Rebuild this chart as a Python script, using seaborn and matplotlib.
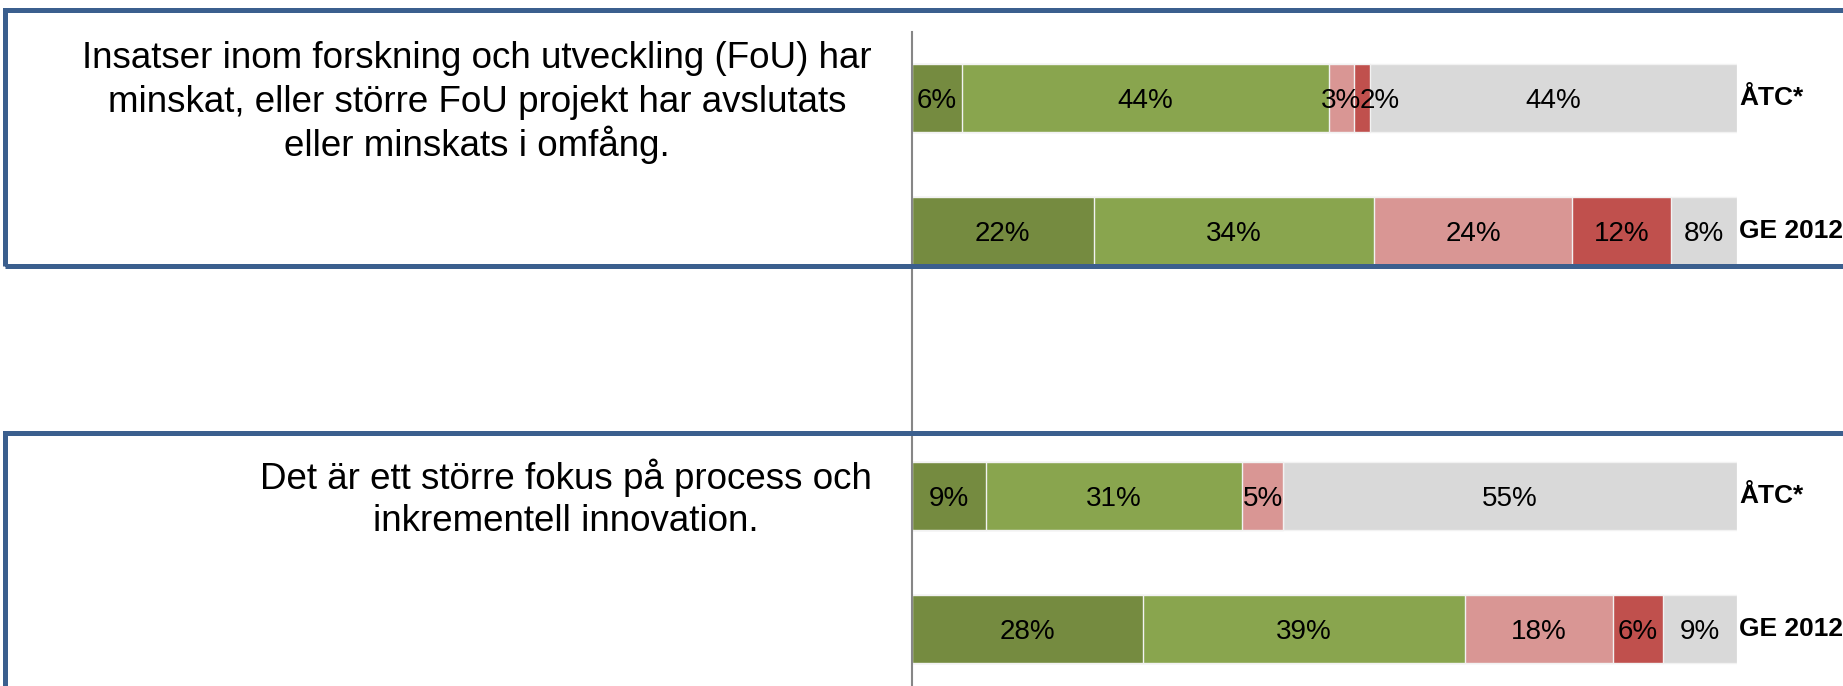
import numpy as np
import pandas as pd
import seaborn as sns
import matplotlib
matplotlib.use("Agg")
import matplotlib.pyplot as plt
from matplotlib.patches import Rectangle

# ---------------- data ----------------
row_labels = ["ÅTC*", "GE 2012", "ÅTC*", "GE 2012"]
row_keys = ["r1", "r2", "r3", "r4"]
slot_order = ["r1", "r2", "gap", "r3", "r4"]
segments = ["s1", "s2", "s3", "s4", "s5"]
seg_colors = ["#758B40", "#89A54E", "#D99694", "#C0504D", "#D9D9D9"]
seg1 = [6, 22, 9, 28]
seg2 = [44, 34, 31, 39]
seg3 = [3, 24, 5, 18]
seg4 = [2, 12, 0, 6]
seg5 = [44, 8, 55, 9]
question1 = ["Insatser inom forskning och utveckling (FoU) har",
             "minskat, eller större FoU projekt har avslutats",
             "eller minskats i omfång."]
question2 = ["Det är ett större fokus på process och",
             "inkrementell innovation."]

W, H = 1843, 686
sns.set_theme(style="white")
plt.rcParams["font.family"] = ["Liberation Sans", "DejaVu Sans"]

fig = plt.figure(figsize=(W / 100, H / 100), dpi=100)
fig.patch.set_facecolor("white")

def px(x):
    return x / W

def py(y):
    return 1 - y / H

ax = fig.add_axes([px(912), 0, (1737 - 912) / W, (H - 32) / H])

vals = np.array([seg1, seg2, seg3, seg4, seg5], dtype=float)
shares = vals / vals.sum(axis=0) * 100
cum = np.cumsum(shares, axis=0)

# draw overlapping cumulative bars, from the total down to the first segment
for k in range(len(segments) - 1, -1, -1):
    df = pd.DataFrame({"row": row_keys, "value": cum[k]})
    sns.barplot(data=df, y="row", x="value", order=slot_order, orient="h",
                color=seg_colors[k], width=0.513, saturation=1,
                edgecolor="#F2F2F2", linewidth=1.0, ax=ax, zorder=2)

ax.set_xlim(0, 100)
ax.set_ylim(4.43, -0.5)

slot_pos = {k: i for i, k in enumerate(slot_order)}
row_texts = []
for j, key in enumerate(row_keys):
    yv = slot_pos[key]
    left = 0.0
    texts = []
    for k in range(len(segments)):
        w = shares[k, j]
        if vals[k, j] > 0:
            t = ax.text(left + w / 2, yv, f"{int(vals[k, j])}%", ha="center",
                        va="center_baseline", fontsize=20, color="black",
                        zorder=5)
            texts.append(t)
        left += w
    row_texts.append(texts)
    ax.text(100.3, yv, row_labels[j], ha="left", va="center", fontsize=19,
            fontweight="bold", color="black", clip_on=False, zorder=5)

# nudge labels of tiny segments so they sit next to each other (as in the original)
fig.canvas.draw()
renderer = fig.canvas.get_renderer()
for texts in row_texts:
    for a, b in zip(texts[:-1], texts[1:]):
        ea = a.get_window_extent(renderer)
        eb = b.get_window_extent(renderer)
        overlap = ea.x1 - eb.x0 - 2
        if overlap > 0:
            x, y = b.get_position()
            xd = ax.transData.inverted().transform(
                ax.transData.transform((x, y)) + np.array([overlap, 0]))[0]
            b.set_x(xd)

ax.set_xlabel("")
ax.set_ylabel("")
ax.set_xticks([])
ax.set_yticks([])
for s in ["top", "right", "bottom"]:
    ax.spines[s].set_visible(False)
ax.spines["left"].set_color("#868686")
ax.spines["left"].set_linewidth(1.5)
ax.patch.set_alpha(0)

# frames around each question
box_col = "#3B5F8E"
fig.add_artist(Rectangle((px(5), py(265.5)), px(2000), (265.5 - 9.5) / H,
                         transform=fig.transFigure, fill=False,
                         edgecolor=box_col, linewidth=3.6, zorder=3))
fig.add_artist(Rectangle((px(5), py(900)), px(2000), (900 - 432.5) / H,
                         transform=fig.transFigure, fill=False,
                         edgecolor=box_col, linewidth=3.6, zorder=3))

# question texts
for i, line in enumerate(question1):
    fig.text(px(477), py(68 + 44 * i), line, ha="center", va="baseline",
             fontsize=26.5, color="black")
for i, line in enumerate(question2):
    fig.text(px(566), py(489 + 42 * i), line, ha="center", va="baseline",
             fontsize=26.5, color="black")

fig.savefig("out.png", dpi=100, facecolor="white")
